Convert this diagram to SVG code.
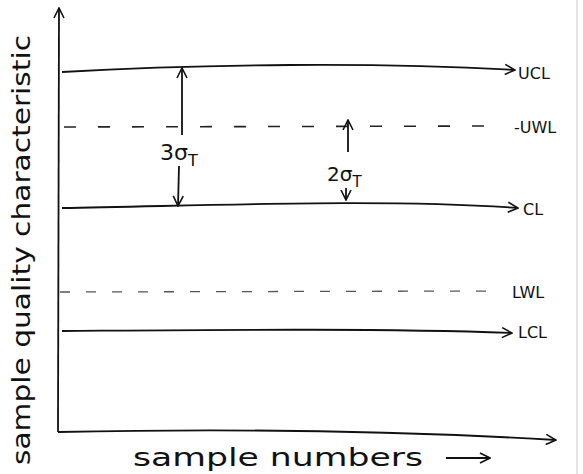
<svg xmlns="http://www.w3.org/2000/svg" width="583" height="474" viewBox="0 0 583 474">
<defs>
<marker id="open" viewBox="0 0 12 12" refX="11" refY="6" markerWidth="12" markerHeight="12" markerUnits="userSpaceOnUse" orient="auto">
<path d="M1,1 L11,6 L1,11" fill="none" stroke="#111" stroke-width="1.6"/>
</marker>
</defs>
<style>
.ln{fill:none;stroke:#111;stroke-width:1.8}
.dash{fill:none;stroke:#222;stroke-width:1.6;stroke-dasharray:12 22}
.dash2{fill:none;stroke:#555;stroke-width:1.3;stroke-dasharray:10 16}
.t{font-family:"Comic Sans MS","DejaVu Sans",sans-serif;fill:#111}
.lbl{font-size:16px}
.ax{font-size:24px}
</style>
<rect width="583" height="474" fill="#fff"/>
<line x1="577" y1="0" x2="577" y2="474" stroke="#ccc" stroke-width="1"/>
<g id="connectors">
<path id="y-axis" class="ln" d="M58,432 L59,8" marker-end="url(#open)"/>
<path id="x-axis" class="ln" d="M58,432 C250,428 420,432 556,440" marker-end="url(#open)"/>
<path class="ln" d="M62,72 C200,64 380,62 515,70" marker-end="url(#open)"/>
<path class="dash" d="M64,127 L500,126"/>
<path class="ln" d="M62,208 C200,206 380,198 518,208" marker-end="url(#open)"/>
<path class="dash2" d="M60,292 L500,291"/>
<path class="ln" d="M62,331 C200,330 380,328 512,333" marker-end="url(#open)"/>
<path class="ln" d="M182,135 L182,68" marker-end="url(#open)"/>
<path class="ln" d="M179,166 L178,206" marker-end="url(#open)"/>
<path class="ln" d="M348,152 L348,120" marker-end="url(#open)"/>
<path class="ln" d="M346,188 L346,200" marker-end="url(#open)"/>
<path class="ln" d="M446,458 L490,458" marker-end="url(#open)"/>
</g>
<g id="UCL"><text class="t lbl" x="518" y="79">UCL</text></g>
<g id="UWL"><text class="t lbl" x="514" y="133">-UWL</text></g>
<g id="CL"><text class="t lbl" x="523" y="215">CL</text></g>
<g id="LWL"><text class="t lbl" x="512" y="298">LWL</text></g>
<g id="LCL"><text class="t lbl" x="518" y="338">LCL</text></g>
<g id="three-sigma"><text class="t" x="160" y="160" font-size="22">3σ<tspan font-size="16" dy="6">T</tspan></text></g>
<g id="two-sigma"><text class="t" x="327" y="181" font-size="20">2σ<tspan font-size="15" dy="6">T</tspan></text></g>
<g id="y-label"><text class="t ax" transform="translate(30,250) rotate(-90)" text-anchor="middle" textLength="430" lengthAdjust="spacingAndGlyphs">sample quality characteristic</text></g>
<g id="x-label"><text class="t ax" x="133" y="466" textLength="290" lengthAdjust="spacingAndGlyphs">sample numbers</text></g>
</svg>
